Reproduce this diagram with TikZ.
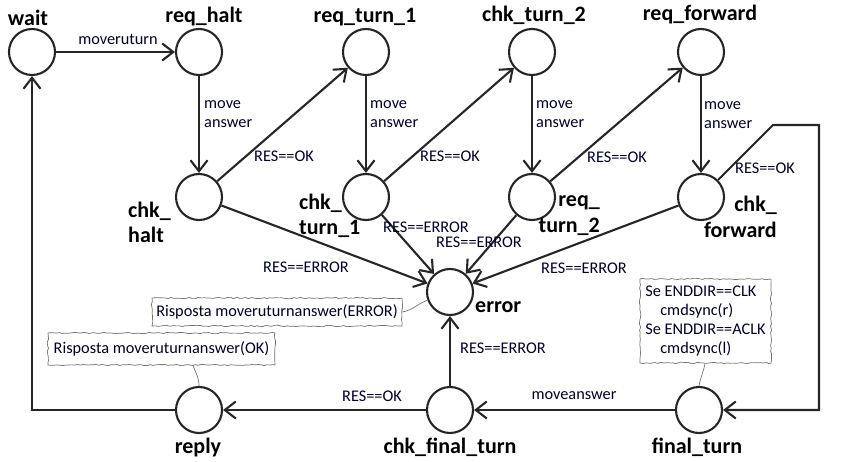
\documentclass[tikz,border=0pt]{standalone}
\usepackage{fontspec}
\setmainfont{Carlito}
\usetikzlibrary{arrows.meta,decorations.pathmorphing,calc}
\begin{document}
\begin{tikzpicture}[x=1pt,y=-1pt,
  state/.style={circle,draw=black!85,line width=2.1pt,minimum size=46pt,inner sep=0pt},
  sname/.style={font=\fontsize{22}{26}\selectfont\bfseries,inner sep=0pt},
  lbl/.style={font=\fontsize{16.3}{19}\selectfont,text=black!85!blue,inner sep=0pt},
  arr/.style={draw=black!85,line width=2.1pt,-{Straight Barb[length=11pt,width=17pt]}},
  note/.style={draw=black!55,line width=0.7pt,fill=white,decorate,
    decoration={random steps,segment length=3pt,amplitude=0.7pt},
    font=\fontsize{16.3}{19}\selectfont,text=black!85!blue,inner sep=0pt},
  notelink/.style={draw=black!55,line width=0.7pt}
]
\pgfmathsetseed{7}
\useasboundingbox (0,0) rectangle (845,462);

% states
\node[state] (wait) at (32,52) {};
\node[state] (req_halt) at (199,52) {};
\node[state] (req_turn_1) at (366,52) {};
\node[state] (chk_turn_2) at (532,52) {};
\node[state] (req_forward) at (701,52) {};
\node[state] (chk_halt) at (199,197) {};
\node[state] (chk_turn_1) at (366,197) {};
\node[state] (req_turn_2) at (532,197) {};
\node[state] (chk_forward) at (701,197) {};
\node[state] (error) at (450,292) {};
\node[state] (reply) at (199,410) {};
\node[state] (chk_final_turn) at (450,410) {};
\node[state] (final_turn) at (699,410) {};

% state names
\node[sname,anchor=base] (n_wait) at (28,26) {wait};
\node[sname,anchor=base] (n_req_halt) at (204,23) {req\_halt};
\node[sname,anchor=base] (n_req_turn_1) at (365,23) {req\_turn\_1};
\node[sname,anchor=base] (n_chk_turn_2) at (534,22) {chk\_turn\_2};
\node[sname,anchor=base] (n_req_forward) at (700,21) {req\_forward};
\node[sname,anchor=base west] (n_chk_halt1) at (128,218) {chk\_};
\node[sname,anchor=base west] (n_chk_halt2) at (128,243) {halt};
\node[sname,anchor=base west] (n_chk_turn_11) at (299,210) {chk\_};
\node[sname,anchor=base west] (n_chk_turn_12) at (299,234) {turn\_1};
\node[sname,anchor=base east] (n_req_turn_21) at (600,207) {req\_};
\node[sname,anchor=base east] (n_req_turn_22) at (600,233) {turn\_2};
\node[sname,anchor=base east] (n_chk_forward1) at (777,212) {chk\_};
\node[sname,anchor=base east] (n_chk_forward2) at (777,237) {forward};
\node[sname,anchor=base west] (n_error) at (475,312) {error};
\node[sname,anchor=base] (n_reply) at (198,453) {reply};
\node[sname,anchor=base] (n_chk_final_turn) at (450,453) {chk\_final\_turn};
\node[sname,anchor=base] (n_final_turn) at (697,453) {final\_turn};

% transitions
\draw[arr] (wait) -- (req_halt);
\draw[arr] (req_halt) -- (chk_halt);
\draw[arr] (req_turn_1) -- (chk_turn_1);
\draw[arr] (chk_turn_2) -- (req_turn_2);
\draw[arr] (req_forward) -- (chk_forward);
\draw[arr] (chk_halt) -- (req_turn_1);
\draw[arr] (chk_turn_1) -- (chk_turn_2);
\draw[arr] (req_turn_2) -- (req_forward);
\draw[arr] (chk_halt) -- (error);
\draw[arr] (chk_turn_1) -- (error);
\draw[arr] (req_turn_2) -- (error);
\draw[arr] (chk_forward) -- (error);
\draw[arr] (chk_final_turn) -- (error);
\draw[arr] (final_turn) -- (chk_final_turn);
\draw[arr] (chk_final_turn) -- (reply);
\draw[arr] (reply) -| (wait);
\coordinate (fk) at (773,125);
\coordinate (fr) at (819,125);
\draw[arr] (chk_forward) -- (fk) -- (fr) |- (final_turn);

% transition labels
\node[lbl] (l_moveruturn) at (118,39) {moveruturn};
\node[lbl,anchor=west,align=left] (l_ma1) at (204,114.5) {move\\answer};
\node[lbl,anchor=west,align=left] (l_ma2) at (370,114.5) {move\\answer};
\node[lbl,anchor=west,align=left] (l_ma3) at (536,114.5) {move\\answer};
\node[lbl,anchor=west,align=left] (l_ma4) at (704,115.5) {move\\answer};
\node[lbl] (l_ok1) at (284,156) {RES==OK};
\node[lbl] (l_ok2) at (450,156) {RES==OK};
\node[lbl] (l_ok3) at (617,157) {RES==OK};
\node[lbl] (l_ok4) at (765,168) {RES==OK};
\node[lbl] (l_er1) at (306,267) {RES==ERROR};
\node[lbl] (l_er2) at (426,227) {RES==ERROR};
\node[lbl] (l_er3) at (479,242) {RES==ERROR};
\node[lbl] (l_er4) at (584,268) {RES==ERROR};
\node[lbl] (l_er5) at (503,348) {RES==ERROR};
\node[lbl] (l_ok5) at (372,396) {RES==OK};
\node[lbl] (l_moveanswer) at (574,396) {moveanswer};

% notes
\node[note,minimum width=250pt,minimum height=28pt] (errnote) at (277,312) {Risposta moveruturnanswer(ERROR)};
\node[note,minimum width=227pt,minimum height=32pt] (oknote) at (161.5,349) {Risposta moveruturnanswer(OK)};
\node[note,minimum width=131pt,minimum height=84pt,align=left] (ennote) at (705.5,321)
  {Se ENDDIR==CLK\\\hspace*{15pt}cmdsync(r)\\Se ENDDIR==ACLK\\\hspace*{15pt}cmdsync(l)};
\draw[notelink] (errnote.east) to[out=10,in=200] (error.200);
\draw[notelink] ([xshift=31.5pt]oknote.south) to[out=-70,in=90] (reply.north);
\draw[notelink] ([xshift=-0.5pt]ennote.south) to[out=-100,in=80] (final_turn.north);
\end{tikzpicture}
\end{document}
